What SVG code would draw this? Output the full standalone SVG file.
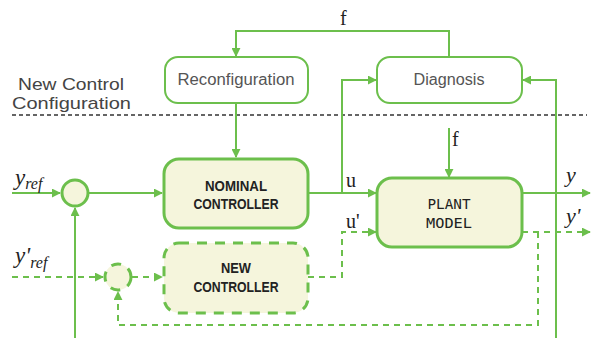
<svg xmlns="http://www.w3.org/2000/svg" width="595" height="338" viewBox="0 0 595 338">
<defs>
<marker id="ah" viewBox="0 0 10 10" refX="9" refY="5" markerWidth="4.5" markerHeight="4.5" orient="auto" markerUnits="strokeWidth">
<path d="M0,0 L10,5 L0,10 Z" fill="#6cbf4c"/>
</marker>
<style>
.ln{fill:none;stroke:#6cbf4c;stroke-width:2}
.dl{fill:none;stroke:#6cbf4c;stroke-width:2;stroke-dasharray:6 5}
.bx{fill:#fff;stroke:#6cbf4c;stroke-width:2}
.fb{fill:#f5f5dc;stroke:#6cbf4c;stroke-width:3}
.fd{fill:#f5f5dc;stroke:#6cbf4c;stroke-width:3;stroke-dasharray:10 8}
.t1{font-family:"Liberation Sans",Arial,sans-serif;font-size:16px;fill:#555;text-anchor:middle}
.t2{font-family:"Liberation Sans",Arial,sans-serif;font-size:15px;font-weight:bold;fill:#222;text-anchor:middle}
.t3{font-family:"DejaVu Sans Mono","Liberation Mono",monospace;font-size:14px;fill:#222;text-anchor:middle}
.t4{font-family:"Liberation Sans",Arial,sans-serif;font-size:17px;fill:#444}
.sr{font-family:"Liberation Serif","Times New Roman",serif;fill:#222}
.it{font-style:italic}
</style>
</defs>
<rect width="595" height="338" fill="#fff"/>
<g id="sep">
<line x1="12" y1="115" x2="587" y2="115" stroke="#333" stroke-width="1.5" stroke-dasharray="4 3"/>
<text class="t4" x="18" y="90" textLength="106" lengthAdjust="spacingAndGlyphs">New Control</text>
<text class="t4" x="12" y="109" textLength="119" lengthAdjust="spacingAndGlyphs">Configuration</text>
</g>
<g id="connectors">
<path class="ln" d="M449,57 V31 H236 V56" marker-end="url(#ah)"/>
<path class="ln" d="M236,103 V157" marker-end="url(#ah)"/>
<path class="ln" d="M12,193 H60" marker-end="url(#ah)"/>
<path class="ln" d="M89,193 H162" marker-end="url(#ah)"/>
<path class="ln" d="M75,338 V208" marker-end="url(#ah)"/>
<path class="ln" d="M308,193 H376" marker-end="url(#ah)"/>
<path class="ln" d="M342,193 V80 H376" marker-end="url(#ah)"/>
<path class="ln" d="M556,338 V80 H523" marker-end="url(#ah)"/>
<path class="ln" d="M449,128 V177" marker-end="url(#ah)"/>
<path class="ln" d="M522,193 H590" marker-end="url(#ah)"/>
<path class="dl" d="M12,277 H103" marker-end="url(#ah)"/>
<path class="dl" d="M132,277 H162" marker-end="url(#ah)"/>
<path class="dl" d="M308,277 H342 V232 H376" marker-end="url(#ah)"/>
<path class="dl" d="M522,232 H590" marker-end="url(#ah)"/>
<path class="dl" d="M538,232 V325 H118 V292" marker-end="url(#ah)"/>
</g>
<g id="reconfiguration">
<rect class="bx" x="165" y="57" width="143" height="46" rx="13"/>
<text class="t1" x="236" y="85" textLength="117" lengthAdjust="spacingAndGlyphs">Reconfiguration</text>
</g>
<g id="diagnosis">
<rect class="bx" x="377" y="57" width="145" height="46" rx="13"/>
<text class="t1" x="449" y="85" textLength="71" lengthAdjust="spacingAndGlyphs">Diagnosis</text>
</g>
<g id="sum1">
<circle class="fb" cx="75" cy="193" r="13" stroke-width="2.5"/>
</g>
<g id="sum2">
<circle class="fd" cx="118" cy="277" r="13" stroke-width="2.5" stroke-dasharray="9 6"/>
</g>
<g id="nominal">
<rect class="fb" x="164" y="159" width="144" height="69" rx="15"/>
<text class="t2" x="236" y="191" textLength="62" lengthAdjust="spacingAndGlyphs">NOMINAL</text>
<text class="t2" x="236" y="209" textLength="85" lengthAdjust="spacingAndGlyphs">CONTROLLER</text>
</g>
<g id="newctrl">
<rect class="fd" x="164" y="243" width="144" height="70" rx="15"/>
<text class="t2" x="236" y="273" textLength="30" lengthAdjust="spacingAndGlyphs">NEW</text>
<text class="t2" x="236" y="292" textLength="85" lengthAdjust="spacingAndGlyphs">CONTROLLER</text>
</g>
<g id="plant">
<rect class="fb" x="377" y="178" width="145" height="69" rx="15"/>
<text class="t3" x="449" y="209" textLength="43" lengthAdjust="spacingAndGlyphs">PLANT</text>
<text class="t3" x="449" y="228" textLength="46" lengthAdjust="spacingAndGlyphs">MODEL</text>
</g>
<g id="labels">
<text class="sr" font-size="20" x="340" y="25">f</text>
<text class="sr" font-size="20" x="452" y="146">f</text>
<text class="sr" font-size="20" x="346" y="187">u</text>
<text class="sr" font-size="20" x="346" y="228">u'</text>
<text class="sr it" font-size="22" x="566" y="182">y</text>
<text class="sr it" font-size="22" x="566" y="223">y'</text>
<text class="sr it" x="15" y="185"><tspan font-size="23">y</tspan><tspan font-size="16" dy="4">ref</tspan></text>
<text class="sr it" x="15" y="263"><tspan font-size="23">y'</tspan><tspan font-size="16" dy="5">ref</tspan></text>
</g>
</svg>
